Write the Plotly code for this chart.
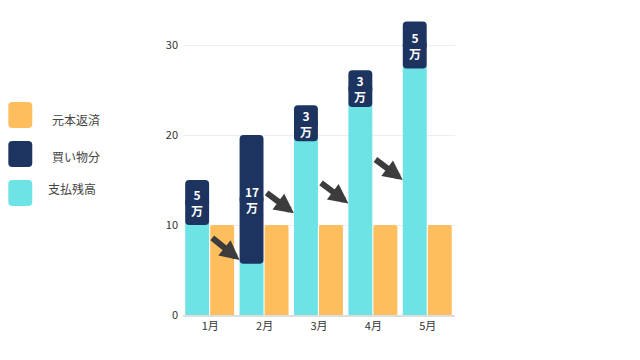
import plotly.graph_objects as go

# ---- data ----
months = ["1月", "2月", "3月", "4月", "5月"]
balance = [10.4, 6.1, 19.7, 23.5, 27.8]          # 支払残高 (cyan)
purchase_base = [10, 5.7, 19.3, 23.1, 27.4]      # where 買い物分 box starts
purchase_height = [5, 14.3, 4.0, 4.1, 5.2]       # 買い物分 box height
purchase_labels = ["5", "17", "3", "3", "5"]     # 万
repayment = [10, 10, 10, 10, 10]                 # 元本返済 (orange)
arrow_from_y = [8.7, 13.7, 14.8, 17.4]
arrow_to_y = [6.1, 11.3, 12.4, 15.0]

ORANGE = "#FFBE5E"
NAVY = "#1D3461"
CYAN = "#6EE3E6"
ARROW = "#3C3C3C"
FONT = "Noto Sans CJK JP"

W, H = 640, 360
L, R, T, B = 183, 184.5, 18, 45
PW, PH = W - L - R, H - T - B

xi = list(range(len(months)))
bw = 0.44

fig = go.Figure()
fig.add_trace(go.Bar(x=xi, y=balance, offset=-0.46, width=bw, marker_color=CYAN,
                     marker_line_width=0, name="支払残高", showlegend=False))
fig.add_trace(go.Bar(x=xi, y=repayment, offset=0.0, width=bw, marker_color=ORANGE,
                     marker_line_width=0, marker_cornerradius=2, name="元本返済", showlegend=False))
mid = [b + h / 2 for b, h in zip(purchase_base, purchase_height)]
# box drawn as two halves so that both ends get rounded corners (halves overlap slightly)
fig.add_trace(go.Bar(x=xi, y=[h / 2 for h in purchase_height], base=[m - 0.5 for m in mid],
                     offset=-0.46, width=bw, marker_color=NAVY, marker_line_width=0,
                     marker_cornerradius=4, name="買い物分", showlegend=False))
fig.add_trace(go.Bar(x=xi, y=[-h / 2 for h in purchase_height], base=[m + 0.5 for m in mid],
                     offset=-0.46, width=bw, marker_color=NAVY, marker_line_width=0,
                     marker_cornerradius=4, name="買い物分", showlegend=False))
# shift: top half starts 0.5 below mid -> compensate by extending its height
fig.data[2].y = tuple(h / 2 + 0.5 for h in purchase_height)
fig.data[3].y = tuple(-h / 2 - 0.5 for h in purchase_height)

annotations = []
for i, (m, lab) in enumerate(zip(mid, purchase_labels)):
    annotations.append(dict(x=i - 0.46 + bw / 2, y=m, xref="x", yref="y", text=f"<b>{lab}<br>万</b>",
                            showarrow=False, font=dict(family=FONT, size=12, color="white"),
                            align="center"))
for i, (y0, y1) in enumerate(zip(arrow_from_y, arrow_to_y)):
    annotations.append(dict(x=i + 0.54, y=y1, ax=i + 0.01, ay=y0, xref="x", yref="y",
                            axref="x", ayref="y", text="", showarrow=True, arrowhead=2,
                            arrowsize=0.65, arrowwidth=6, arrowcolor=ARROW, standoff=0))

# legend (drawn manually)
def px_x(p):
    return (p - L) / PW

def px_y(p):
    return (H - B - p) / PH

def rrect(x0, y0, x1, y1, r):
    X = lambda v: px_x(v)
    Y = lambda v: px_y(v)
    return (f"M {X(x0 + r)} {Y(y0)} L {X(x1 - r)} {Y(y0)} Q {X(x1)} {Y(y0)} {X(x1)} {Y(y0 + r)} "
            f"L {X(x1)} {Y(y1 - r)} Q {X(x1)} {Y(y1)} {X(x1 - r)} {Y(y1)} "
            f"L {X(x0 + r)} {Y(y1)} Q {X(x0)} {Y(y1)} {X(x0)} {Y(y1 - r)} "
            f"L {X(x0)} {Y(y0 + r)} Q {X(x0)} {Y(y0)} {X(x0 + r)} {Y(y0)} Z")

legend_items = [("元本返済", ORANGE, 102, 50, 119), ("買い物分", NAVY, 141, 50, 156),
                ("支払残高", CYAN, 180, 46, 189)]
shapes = []
for name, col, top, tx, ty in legend_items:
    shapes.append(dict(type="path", xref="paper", yref="paper", path=rrect(8, top, 32, top + 26, 4),
                       fillcolor=col, line_width=0))
    annotations.append(dict(x=px_x(tx), y=px_y(ty), xref="paper", yref="paper", text=name,
                            showarrow=False, xanchor="left", yanchor="middle",
                            font=dict(family=FONT, size=12, color="#444")))

fig.update_layout(
    width=W, height=H, margin=dict(l=L, r=R, t=T, b=B),
    paper_bgcolor="white", plot_bgcolor="white", barmode="overlay",
    font=dict(family=FONT, size=11, color="#333"),
    annotations=annotations, shapes=shapes,
    xaxis=dict(range=[-0.5, 4.5], tickmode="array", tickvals=xi, ticktext=months,
               showgrid=False, zeroline=False, showline=True, linecolor="#dddddd", linewidth=2,
               ticks="", tickfont=dict(size=11, color="#333")),
    yaxis=dict(range=[0, 33], tickvals=[0, 10, 20, 30], showgrid=True, gridcolor="#eeeeee",
               gridwidth=1, zeroline=False, showline=False, ticks="", ticklen=0,
               ticklabelstandoff=4, tickfont=dict(size=11, color="#333")),
)
fig.write_html("out.html")
